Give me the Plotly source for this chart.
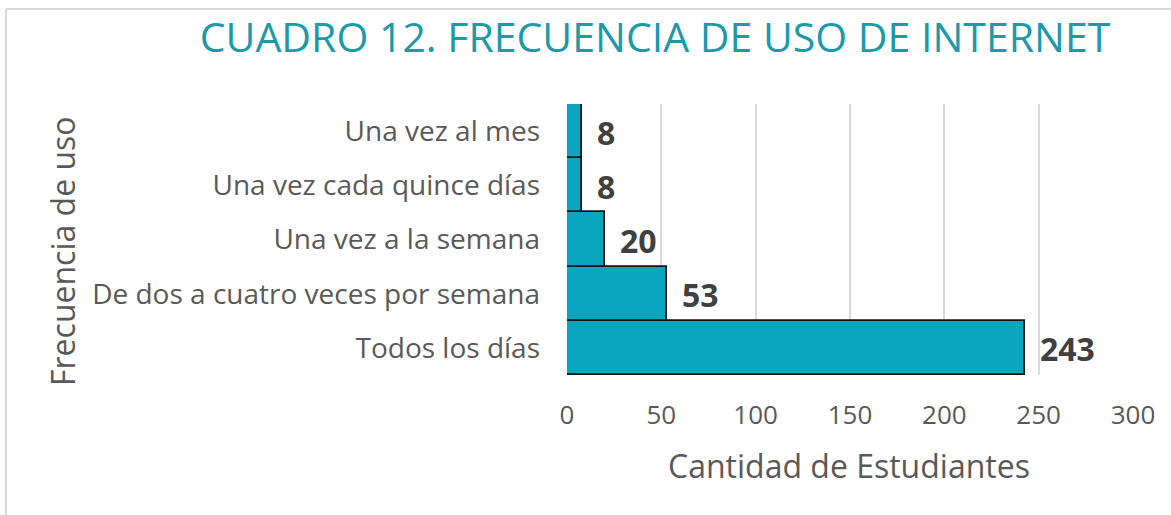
import plotly.graph_objects as go

categorias = ["Todos los días", "De dos a cuatro veces por semana", "Una vez a la semana",
              "Una vez cada quince días", "Una vez al mes"]
valores = [243, 53, 20, 8, 8]
ticks_x = [0, 50, 100, 150, 200, 250, 300]

TEAL = "#0AA6BD"
FONT = "Open Sans"
L, R, T, B = 567, 38, 104, 140
W, H = 1171, 515
PW, PH = W - L - R, H - T - B


def px(xp):
    return (xp - L) / PW


def py(yp):
    return (H - B - yp) / PH


fig = go.Figure(go.Bar(
    y=categorias, x=valores, orientation="h",
    marker=dict(color=TEAL, line=dict(color="#151515", width=1.8)),
    hoverinfo="x+y",
))

for c, v in zip(categorias, valores):
    fig.add_annotation(x=v, y=c, text=f"<b>{v}</b>", showarrow=False,
                       xanchor="left", yanchor="middle", xshift=13, yshift=-1,
                       font=dict(family=FONT, size=32, color="#404040"))

fig.add_annotation(xref="paper", yref="paper", x=px(62), y=py(251),
                   text="Frecuencia de uso", textangle=-90, showarrow=False,
                   xanchor="center", yanchor="middle",
                   font=dict(family=FONT, size=32, color="#595959"))
fig.add_annotation(xref="paper", yref="paper", x=px(849), y=py(465),
                   text="Cantidad de Estudiantes", showarrow=False,
                   xanchor="center", yanchor="middle",
                   font=dict(family=FONT, size=32, color="#595959"))

fig.update_layout(
    width=W, height=H,
    margin=dict(l=L, r=R, t=T, b=B),
    paper_bgcolor="white", plot_bgcolor="white",
    bargap=0,
    showlegend=False,
    title=dict(text="CUADRO 12. FRECUENCIA DE USO DE INTERNET",
               x=655 / W, xanchor="center", y=1 - 38 / H, yanchor="middle",
               font=dict(family=FONT, size=41, color="#1B9AAA")),
    xaxis=dict(range=[0, 300], tickvals=ticks_x, showgrid=True, gridcolor="#D9D9D9",
               gridwidth=1.5, zeroline=False, showline=False, ticks="",
               ticklabelstandoff=22,
               tickfont=dict(family=FONT, size=26, color="#595959")),
    yaxis=dict(showgrid=False, zeroline=False, showline=False, ticks="",
               ticklabelstandoff=26,
               tickfont=dict(family=FONT, size=28, color="#595959")),
    shapes=[
        dict(type="line", xref="paper", yref="paper",
             x0=px(6), x1=px(W), y0=py(9), y1=py(9),
             line=dict(color="#D9D9D9", width=2)),
        dict(type="line", xref="paper", yref="paper",
             x0=px(6), x1=px(6), y0=py(9), y1=py(H + 5),
             line=dict(color="#D9D9D9", width=2)),
    ],
)

fig.write_html("out.html", config={"displayModeBar": False},
               post_script="document.body.style.margin='0';")
